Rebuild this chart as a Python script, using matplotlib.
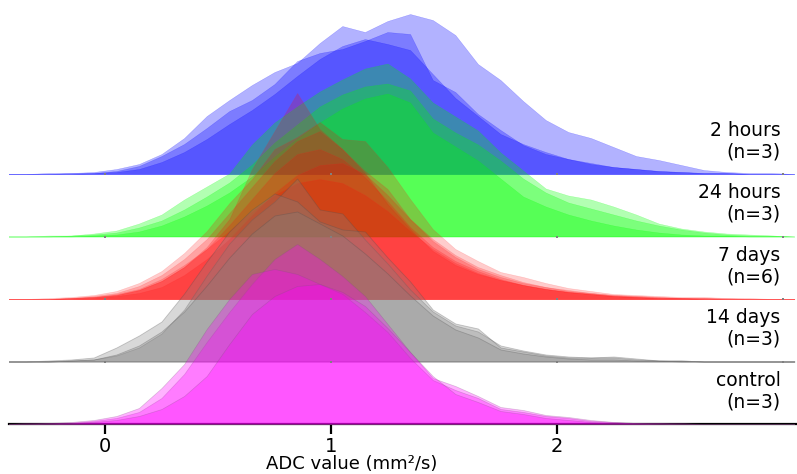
import numpy as np
import matplotlib.pyplot as plt

# centros de los bins de ADC (mm^2/s)
adc_bins = [-0.45, -0.35, -0.25, -0.15, -0.05, 0.05, 0.15, 0.25, 0.35, 0.45,
            0.55, 0.65, 0.75, 0.85, 0.95, 1.05, 1.15, 1.25, 1.35, 1.45,
            1.55, 1.65, 1.75, 1.85, 1.95, 2.05, 2.15, 2.25, 2.35, 2.45,
            2.55, 2.65, 2.75, 2.85, 2.95, 3.05]

# histogramas por animal (frecuencia, unidades arbitrarias)
hours2 = [
    [0, 0, 1, 1, 2, 5, 10, 20, 36, 58, 74, 89, 102, 111, 131, 148, 142, 153, 160, 154,
     139, 110, 94, 73, 54, 42, 36, 27, 18, 14, 9, 4, 2, 1, 1, 0],
    [0, 0, 0, 1, 1, 3, 8, 18, 30, 46, 63, 74, 90, 113, 121, 125, 133, 142, 140, 94,
     82, 60, 44, 29, 20, 15, 10, 7, 5, 3, 2, 1, 1, 0, 0, 0],
    [0, 0, 0, 0, 1, 2, 5, 12, 22, 35, 50, 64, 80, 98, 115, 128, 135, 130, 124, 100,
     76, 58, 40, 30, 22, 15, 11, 7, 5, 3, 2, 1, 1, 0, 0, 0],
]
hours24 = [
    [0, 0, 1, 1, 3, 6, 13, 22, 37, 50, 63, 92, 114, 130, 145, 157, 168, 173, 158, 134,
     120, 106, 84, 66, 48, 41, 37, 30, 22, 13, 8, 5, 3, 2, 1, 0],
    [0, 0, 0, 1, 2, 4, 9, 16, 27, 40, 54, 72, 94, 112, 130, 142, 150, 153, 146, 118,
     104, 92, 76, 58, 44, 34, 28, 22, 16, 11, 7, 4, 2, 1, 1, 0],
    [0, 0, 0, 0, 1, 2, 5, 11, 20, 31, 44, 60, 80, 98, 114, 128, 138, 143, 134, 104,
     90, 76, 58, 40, 30, 22, 16, 11, 7, 4, 2, 1, 1, 0, 0, 0],
]
days7 = [
    [0, 0, 0, 1, 2, 4, 9, 18, 32, 52, 80, 130, 168, 206, 170, 150, 126, 95, 70, 48,
     34, 25, 19, 14, 10, 7, 5, 3, 2, 1, 1, 1, 0, 0, 0, 0],
    [0, 0, 1, 2, 4, 8, 16, 28, 46, 68, 96, 120, 150, 162, 177, 160, 158, 132, 100, 70,
     50, 38, 27, 22, 16, 11, 8, 5, 4, 3, 2, 2, 1, 1, 0, 0],
    [0, 0, 0, 1, 3, 6, 13, 24, 40, 60, 86, 112, 138, 158, 168, 150, 128, 110, 80, 58,
     42, 30, 22, 16, 12, 9, 6, 4, 3, 2, 1, 1, 1, 0, 0, 0],
    [0, 0, 0, 1, 2, 4, 9, 18, 32, 50, 74, 100, 126, 145, 150, 140, 122, 98, 72, 52,
     38, 28, 20, 14, 10, 7, 5, 3, 2, 1, 1, 0, 0, 0, 0, 0],
    [0, 0, 0, 0, 1, 3, 6, 12, 24, 40, 60, 84, 106, 124, 134, 136, 125, 104, 80, 60,
     44, 32, 24, 17, 12, 8, 6, 4, 3, 2, 1, 1, 0, 0, 0, 0],
    [0, 0, 0, 1, 2, 5, 10, 20, 34, 50, 68, 88, 104, 116, 120, 116, 104, 88, 68, 50,
     36, 26, 19, 14, 10, 7, 5, 3, 2, 1, 1, 0, 0, 0, 0, 0],
]
days14 = [
    [0, 0, 0, 1, 2, 6, 14, 28, 52, 86, 118, 142, 160, 183, 152, 148, 122, 98, 72, 50,
     36, 30, 16, 11, 7, 5, 4, 4, 2, 1, 1, 0, 0, 0, 0, 0],
    [0, 0, 1, 2, 4, 14, 26, 40, 68, 100, 130, 152, 168, 160, 140, 132, 130, 104, 80, 52,
     38, 33, 14, 10, 6, 4, 4, 5, 3, 1, 1, 0, 0, 0, 0, 0],
    [0, 0, 0, 1, 2, 7, 16, 30, 50, 76, 104, 128, 146, 150, 138, 126, 108, 88, 66, 46,
     32, 24, 12, 8, 5, 3, 2, 2, 1, 1, 0, 0, 0, 0, 0, 0],
]
control = [
    [0, 0, 1, 1, 3, 6, 12, 26, 50, 82, 112, 140, 165, 180, 165, 148, 128, 100, 72, 46,
     38, 28, 17, 14, 9, 7, 4, 2, 1, 1, 0, 0, 0, 0, 0, 0],
    [0, 1, 1, 2, 4, 8, 16, 36, 60, 95, 125, 150, 155, 150, 140, 130, 112, 92, 66, 44,
     34, 26, 15, 12, 8, 6, 3, 2, 1, 1, 1, 0, 0, 0, 0, 0],
    [0, 0, 0, 1, 2, 4, 8, 15, 28, 48, 80, 110, 128, 138, 140, 132, 118, 96, 72, 48,
     30, 22, 13, 10, 6, 4, 2, 1, 1, 0, 0, 0, 0, 0, 0, 0],
]

grupos = ["2 hours", "24 hours", "7 days", "14 days", "control"]
n_animales = [3, 3, 6, 3, 3]
curvas = [hours2, hours24, days7, days14, control]
colores = ["#0000ff", "#00ff00", "#ff0000", "#808080", "#ff00ff"]
bordes = ["#0000ff", "#00ff00", "#ff2020", "#4d4d4d", "#805080"]
grosor = [0.3, 0.3, 0.4, 0.6, 0.5]

fig = plt.figure(figsize=(7.97, 4.74), dpi=100)
ax = fig.add_axes([9 / 797, 50 / 474, 788 / 797, 424 / 474])

x = np.array(adc_bins)
sep = 62.5  # separacion vertical entre filas
for i in range(len(grupos)):
    base = (len(grupos) - 1 - i) * sep
    alpha = 0.2 if n_animales[i] > 3 else 0.3
    for h in curvas[i]:
        ax.fill_between(x, base, base + np.array(h), facecolor=colores[i],
                        edgecolor=bordes[i], linewidth=grosor[i], alpha=alpha,
                        zorder=i + 1)
    if i < len(grupos) - 1:
        ax.plot([0, 1, 2, 3.0], [base] * 4, ls="none", marker="s", ms=1.6,
                mew=0, color="0.5", zorder=10)
    ax.text(2.99, base + 33, grupos[i] + "\n(n=" + str(n_animales[i]) + ")",
            ha="right", va="center", multialignment="right", fontsize=13.5,
            linespacing=1.15, zorder=20)

ax.set_xlim(-0.425, 3.062)
ax.set_ylim(0, 424)
ax.set_xticks([0, 1, 2])
ax.set_yticks([])
ax.tick_params(axis="x", length=7, width=1.6, labelsize=14, pad=2)
for lado in ["left", "right", "top"]:
    ax.spines[lado].set_visible(False)
ax.spines["bottom"].set_linewidth(1.6)
ax.set_xlabel("ADC value (mm²/s)", fontsize=13)
ax.xaxis.set_label_coords(0.435, -0.072)

plt.savefig("out.png", dpi=100)
